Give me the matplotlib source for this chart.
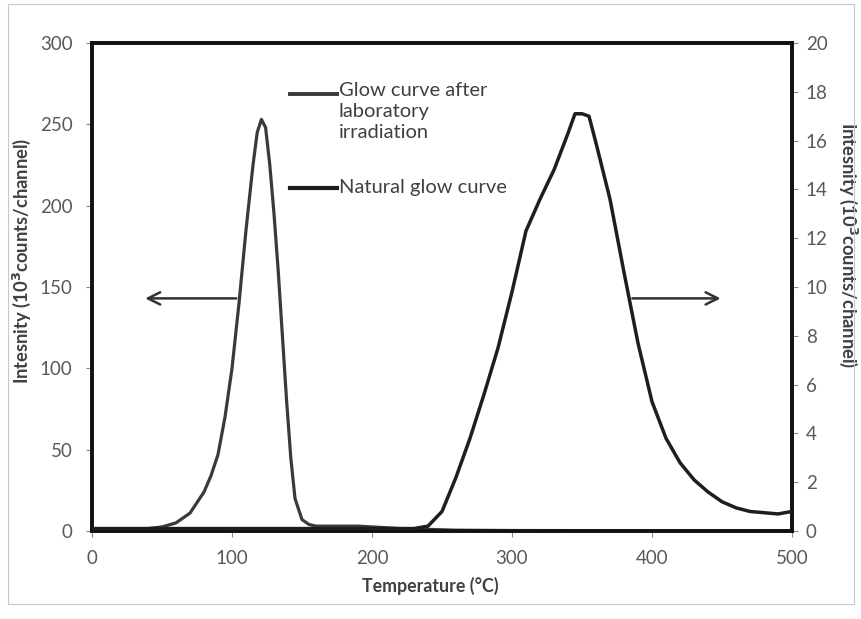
import matplotlib
matplotlib.use("Agg")
import matplotlib.pyplot as plt
from matplotlib.lines import Line2D
from matplotlib.patches import Rectangle

plt.rcParams['font.family'] = ['Lato', 'DejaVu Sans']

# glow curve after laboratory irradiation (left axis, 10^3 counts/channel)
lab_temp = [0, 10, 20, 30, 40, 50, 60, 70, 80, 85, 90, 95, 100, 105, 110, 115, 118, 121,
            124, 127, 130, 133, 136, 139, 142, 145, 150, 155, 160, 170, 180, 190, 200,
            210, 220, 230, 240, 260, 300, 400, 500]
lab_int = [1, 1, 1, 1, 1.5, 2.5, 5, 11, 24, 34, 47, 70, 100, 140, 185, 225, 245, 253,
           248, 225, 195, 160, 120, 80, 45, 20, 7, 4, 3, 3, 3, 3, 2.5,
           2, 1.5, 1, 1, 0.5, 0.3, 0.2, 0.2]

# natural glow curve (right axis, 10^3 counts/channel)
nat_temp = [0, 50, 100, 150, 200, 230, 240, 250, 260, 270, 280, 290, 300, 310, 320, 330,
            340, 345, 350, 355, 360, 370, 380, 390, 400, 410, 420, 430, 440, 450, 460,
            470, 480, 490, 500]
nat_int = [0.1, 0.1, 0.1, 0.1, 0.1, 0.1, 0.2, 0.8, 2.2, 3.8, 5.6, 7.5, 9.8, 12.3, 13.6, 14.8,
           16.3, 17.1, 17.1, 17.0, 15.9, 13.6, 10.6, 7.7, 5.3, 3.8, 2.8, 2.1, 1.6, 1.2, 0.95,
           0.8, 0.75, 0.7, 0.8]

x_ticks = [0, 100, 200, 300, 400, 500]
left_ticks = [0, 50, 100, 150, 200, 250, 300]
right_ticks = [0, 2, 4, 6, 8, 10, 12, 14, 16, 18, 20]

text_col = '#404040'
tick_col = '#595959'

fig = plt.figure(figsize=(8.62, 6.19), dpi=100)
ax = fig.add_axes([92 / 862, 1 - 531 / 619, 700 / 862, 488 / 619])
ay = ax.twinx()

ax.plot(lab_temp, lab_int, color='#3a3a3a', lw=2.3, zorder=3)
ay.plot(nat_temp, nat_int, color='#1e1e1e', lw=2.5, zorder=3)

ax.set_xlim(0, 500)
ax.set_ylim(0, 300)
ay.set_ylim(0, 20)
ax.set_xticks(x_ticks)
ax.set_yticks(left_ticks)
ay.set_yticks(right_ticks)

for a in (ax, ay):
    for s in a.spines.values():
        s.set_linewidth(2.6)
        s.set_color('#111111')
    a.tick_params(colors='#888888', labelcolor=tick_col, labelsize=13.5,
                  length=4, width=0.8, direction='out')
ax.tick_params(axis='x', pad=10)
ax.tick_params(axis='y', pad=10)
ay.tick_params(axis='y', pad=6)

ax.set_xlabel('Temperature (°C)', fontsize=12.8, fontweight='bold', color=text_col)
ax.xaxis.set_label_coords(0.483, -0.095)
ax.set_ylabel('Intesnity (10$^\\mathbf{3}$counts/channel)', fontsize=13.2, fontweight='bold',
              color=text_col)
ax.yaxis.set_label_coords(-0.084, 0.553)
ay.set_ylabel('Intesnity (10$^\\mathbf{3}$counts/channel)', fontsize=13.2, fontweight='bold',
              color=text_col, rotation=270, va='center')
ay.yaxis.set_label_coords(1.08, 0.585)

# arrows pointing to each curve's axis
ax.annotate('', xy=(36, 143), xytext=(105, 143),
            arrowprops=dict(arrowstyle='->', color='#333333', lw=1.8, mutation_scale=22))
ax.annotate('', xy=(451, 143), xytext=(384, 143),
            arrowprops=dict(arrowstyle='->', color='#333333', lw=1.8, mutation_scale=22))

# legend drawn by hand so the first handle lines up with the first text line
fig.add_artist(Line2D([290 / 862, 337 / 862], [1 - 94 / 619, 1 - 94 / 619],
                      color='#3a3a3a', lw=2.8))
fig.text(339 / 862, 1 - 82 / 619, 'Glow curve after\nlaboratory\nirradiation',
         fontsize=14.5, color=text_col, va='top', ha='left', linespacing=1.3)
fig.add_artist(Line2D([290 / 862, 337 / 862], [1 - 188 / 619, 1 - 188 / 619],
                      color='#1e1e1e', lw=3.0))
fig.text(339 / 862, 1 - 188 / 619, 'Natural glow curve', fontsize=14.5, color=text_col,
         va='center', ha='left')

# faint outer frame
fig.add_artist(Rectangle((8 / 862, 1 - 604 / 619), 846 / 862, 600 / 619,
                         transform=fig.transFigure, fill=False, ec='#c8c8c8', lw=0.8))

fig.savefig('out.png', dpi=100)
